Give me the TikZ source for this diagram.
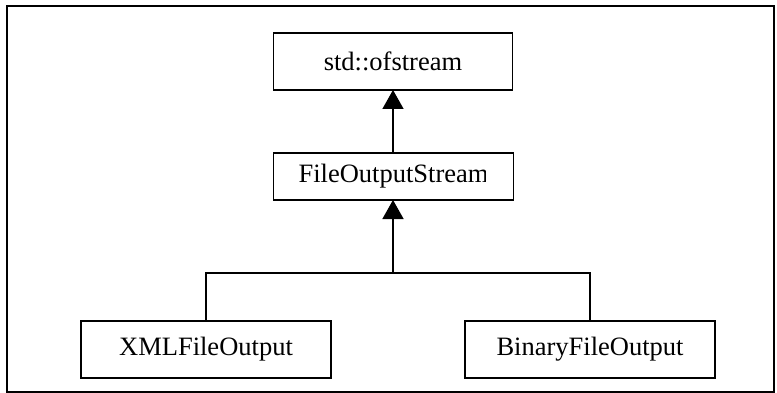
\documentclass[tikz,border=0pt]{standalone}
\usepackage{fontspec}
\setmainfont{Liberation Serif}
\usetikzlibrary{arrows.meta}
\begin{document}
\begin{tikzpicture}[x=1pt,y=-1pt,
  line width=1.5pt,
  classbox/.style={draw, rectangle, inner sep=0pt, outer sep=0pt,
    minimum width=#1, font=\fontsize{26.5}{30}\selectfont},
  classbox/.default=240pt,
  inherit/.style={-{Triangle[width=21pt,length=19pt]}},
]
\useasboundingbox (0,0) rectangle (777,393);
% outer frame
\node[draw, rectangle, inner sep=0pt, minimum width=767pt, minimum height=386pt]
  (frame) at (390.5,199) {};

% class boxes
\node[classbox=239pt, minimum height=57pt] (std) at (393,61.5) {std::ofstream};
\node[classbox=240pt, minimum height=47pt] (fos) at (393.5,176.5) {};
% the label of this box is cut off by its text area
\begin{scope}
  \clip (273,150) rectangle (485,203);
  \node[font=\fontsize{26.5}{30}\selectfont, inner sep=0pt] (fostext) at (fos.center) {FileOutputStream};
\end{scope}
\node[classbox=250pt, minimum height=57pt] (xml) at (206,349.5) {XMLFileOutput};
\node[classbox=250pt, minimum height=57pt] (bin) at (590,349.5) {BinaryFileOutput};

% inheritance connectors
\coordinate (bus) at (393,273);
\draw[inherit] (fos.north -| std.south) -- (std.south);
\draw (xml.north) |- (bus) -| (bin.north);
\draw[inherit] (bus) -- (bus |- fos.south);
\end{tikzpicture}
\end{document}
